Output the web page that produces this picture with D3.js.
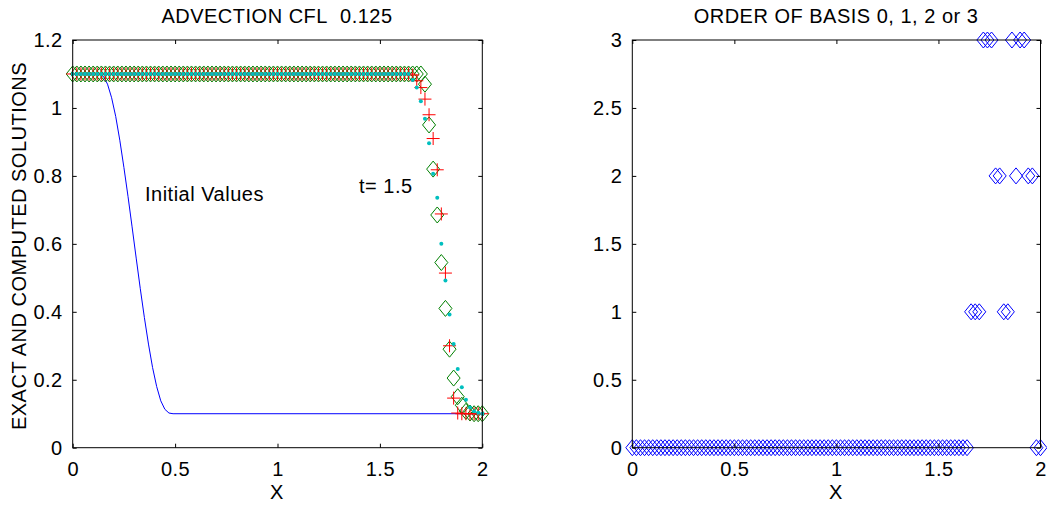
<!DOCTYPE html>
<html>
<head>
<meta charset="utf-8">
<script src="https://cdn.jsdelivr.net/npm/d3@7"></script>
<style>
  body { margin: 0; background: #fff; }
  text { font-family: "Liberation Sans", Arial, sans-serif; fill: #000; letter-spacing: 0.5px; }
</style>
</head>
<body>
<script>
// mesh: 101 points, dx = 0.02 on [0, 2]
let xMesh = d3.range(101).map(i => +(i * 0.02).toFixed(2))

// initial values (blue line)
let initX = [0, 0.10, 0.13, 0.15, 0.17, 0.19, 0.21, 0.23, 0.25, 0.27, 0.29, 0.31, 0.33, 0.35, 0.37, 0.39, 0.41, 0.43, 0.45, 0.47, 0.49, 2.0]
let initY = [1.1, 1.1, 1.1, 1.093, 1.07, 1.03, 0.975, 0.905, 0.825, 0.74, 0.65, 0.558, 0.468, 0.383, 0.305, 0.236, 0.18, 0.138, 0.113, 0.102, 0.1, 0.1]

// green diamonds at t = 1.5
let greenVals = [
  1.1, 1.1, 1.1, 1.1, 1.1, 1.1, 1.1, 1.1, 1.1, 1.1, 1.1, 1.1, 1.1, 1.1, 1.1, 1.1, 1.1, 1.1, 1.1, 1.1,
  1.1, 1.1, 1.1, 1.1, 1.1, 1.1, 1.1, 1.1, 1.1, 1.1, 1.1, 1.1, 1.1, 1.1, 1.1, 1.1, 1.1, 1.1, 1.1, 1.1,
  1.1, 1.1, 1.1, 1.1, 1.1, 1.1, 1.1, 1.1, 1.1, 1.1, 1.1, 1.1, 1.1, 1.1, 1.1, 1.1, 1.1, 1.1, 1.1, 1.1,
  1.1, 1.1, 1.1, 1.1, 1.1, 1.1, 1.1, 1.1, 1.1, 1.1, 1.1, 1.1, 1.1, 1.1, 1.1, 1.1, 1.1, 1.1, 1.1, 1.1,
  1.1, 1.1, 1.1, 1.1, 1.1, 1.1, 1.07, 0.95, 0.82, 0.685, 0.545, 0.41, 0.29, 0.205, 0.15, 0.125, 0.107, 0.102, 0.1, 0.1,
  0.1]

// red pluses
let redVals = [
  1.1, 1.1, 1.1, 1.1, 1.1, 1.1, 1.1, 1.1, 1.1, 1.1, 1.1, 1.1, 1.1, 1.1, 1.1, 1.1, 1.1, 1.1, 1.1, 1.1,
  1.1, 1.1, 1.1, 1.1, 1.1, 1.1, 1.1, 1.1, 1.1, 1.1, 1.1, 1.1, 1.1, 1.1, 1.1, 1.1, 1.1, 1.1, 1.1, 1.1,
  1.1, 1.1, 1.1, 1.1, 1.1, 1.1, 1.1, 1.1, 1.1, 1.1, 1.1, 1.1, 1.1, 1.1, 1.1, 1.1, 1.1, 1.1, 1.1, 1.1,
  1.1, 1.1, 1.1, 1.1, 1.1, 1.1, 1.1, 1.1, 1.1, 1.1, 1.1, 1.1, 1.1, 1.1, 1.1, 1.1, 1.1, 1.1, 1.1, 1.1,
  1.1, 1.1, 1.1, 1.097, 1.08, 1.06, 1.026, 0.98, 0.91, 0.818, 0.688, 0.514, 0.30, 0.146, 0.102, 0.1, 0.1, 0.1, 0.1, 0.1,
  0.1]

// cyan dots
let cyanVals = [
  1.1, 1.1, 1.1, 1.1, 1.1, 1.1, 1.1, 1.1, 1.1, 1.1, 1.1, 1.1, 1.1, 1.1, 1.1, 1.1, 1.1, 1.1, 1.1, 1.1,
  1.1, 1.1, 1.1, 1.1, 1.1, 1.1, 1.1, 1.1, 1.1, 1.1, 1.1, 1.1, 1.1, 1.1, 1.1, 1.1, 1.1, 1.1, 1.1, 1.1,
  1.1, 1.1, 1.1, 1.1, 1.1, 1.1, 1.1, 1.1, 1.1, 1.1, 1.1, 1.1, 1.1, 1.1, 1.1, 1.1, 1.1, 1.1, 1.1, 1.1,
  1.1, 1.1, 1.1, 1.1, 1.1, 1.1, 1.1, 1.1, 1.1, 1.1, 1.1, 1.1, 1.1, 1.1, 1.1, 1.1, 1.1, 1.1, 1.1, 1.1,
  1.1, 1.1, 1.1, 1.082, 1.06, 1.02, 0.968, 0.896, 0.806, 0.736, 0.60, 0.492, 0.392, 0.305, 0.232, 0.178, 0.141, 0.118, 0.107, 0.103,
  0.1]

// order of basis per cell
let orderVals = [
  0, 0, 0, 0, 0, 0, 0, 0, 0, 0, 0, 0, 0, 0, 0, 0, 0, 0, 0, 0,
  0, 0, 0, 0, 0, 0, 0, 0, 0, 0, 0, 0, 0, 0, 0, 0, 0, 0, 0, 0,
  0, 0, 0, 0, 0, 0, 0, 0, 0, 0, 0, 0, 0, 0, 0, 0, 0, 0, 0, 0,
  0, 0, 0, 0, 0, 0, 0, 0, 0, 0, 0, 0, 0, 0, 0, 0, 0, 0, 0, 0,
  0, 0, 0, 1, 1, 1, 3, 3, 3, 2, 2, 1, 1, 3, 2, 3, 3, 2, 2, 0,
  0]

let xTicks = [0, 0.5, 1, 1.5, 2]
let yTicksLeft = [0, 0.2, 0.4, 0.6, 0.8, 1, 1.2]
let yTicksRight = [0, 0.5, 1, 1.5, 2, 2.5, 3]

let width = 1047, height = 508
let svg = d3.select("body").append("svg")
  .attr("width", width)
  .attr("height", height)

let FS = 20

function diamond(d) {
  return `M0,-8L6.5,0L0,8L-6.5,0Z`
}

// draws the box, inward ticks on all sides and tick labels
function drawAxes(g, x, y, yTicks) {
  let [x0, x1] = x.range()
  let [y0, y1] = y.range()
  g.append("rect")
    .attr("x", x0).attr("y", y1)
    .attr("width", x1 - x0).attr("height", y0 - y1)
    .attr("fill", "none").attr("stroke", "#000")

  let fmt = d => d3.format("~g")(d)
  g.append("g").attr("transform", `translate(0,${y0})`)
    .call(d3.axisBottom(x).tickValues(xTicks).tickSize(-4).tickPadding(14).tickFormat(fmt))
  g.append("g").attr("transform", `translate(0,${y1})`)
    .call(d3.axisTop(x).tickValues(xTicks).tickSize(-4).tickFormat(""))
  g.append("g").attr("transform", `translate(${x0},0)`)
    .call(d3.axisLeft(y).tickValues(yTicks).tickSize(-4).tickPadding(10).tickFormat(fmt))
  g.append("g").attr("transform", `translate(${x1},0)`)
    .call(d3.axisRight(y).tickValues(yTicks).tickSize(-4).tickFormat(""))

  g.selectAll(".domain").remove()
  g.selectAll(".tick line").attr("stroke", "#000")
  g.selectAll(".tick text")
    .attr("font-size", FS)
    .attr("font-family", "Liberation Sans, Arial, sans-serif")
    .attr("fill", "#000")
}

// ---- left plot ----
let xL = d3.scaleLinear().domain([0, 2]).range([72.7, 482.3])
let yL = d3.scaleLinear().domain([0, 1.2]).range([447.7, 40])
let gL = svg.append("g")

let line = d3.line().x((d, i) => xL(initX[i])).y(d => yL(d))
gL.append("path")
  .attr("d", line(initY))
  .attr("fill", "none")
  .attr("stroke", "#0000ff")
  .attr("stroke-width", 1)

gL.append("g").selectAll("path")
  .data(greenVals)
  .enter()
  .append("path")
    .attr("d", diamond)
    .attr("transform", (d, i) => `translate(${xL(xMesh[i])},${yL(d)})`)
    .attr("fill", "none")
    .attr("stroke", "#008000")

gL.append("g").selectAll("path")
  .data(redVals)
  .enter()
  .append("path")
    .attr("d", "M-6.5,0H6.5M0,-6.5V6.5")
    .attr("transform", (d, i) => `translate(${xL(xMesh[i])},${yL(d)})`)
    .attr("fill", "none")
    .attr("stroke", "#ff0000")

gL.append("g").selectAll("circle")
  .data(cyanVals)
  .enter()
  .append("circle")
    .attr("cx", (d, i) => xL(xMesh[i]))
    .attr("cy", d => yL(d))
    .attr("r", 2)
    .attr("fill", "#00bfbf")

drawAxes(gL, xL, yL, yTicksLeft)

gL.append("text").attr("x", 277).attr("y", 23).attr("text-anchor", "middle")
  .attr("font-size", FS).text("ADVECTION CFL\u00a0\u00a00.125")
gL.append("text").attr("x", 277).attr("y", 499).attr("text-anchor", "middle")
  .attr("font-size", FS).text("X")
gL.append("text")
  .attr("transform", "translate(26,246) rotate(-90)")
  .attr("text-anchor", "middle")
  .attr("font-size", FS).text("EXACT AND COMPUTED SOLUTIONS")
gL.append("text").attr("x", 145).attr("y", 201)
  .attr("font-size", FS).text("Initial Values")
gL.append("text").attr("x", 359).attr("y", 193)
  .attr("font-size", FS).text("t= 1.5")

// ---- right plot ----
let xR = d3.scaleLinear().domain([0, 2]).range([632.3, 1040.5])
let yR = d3.scaleLinear().domain([0, 3]).range([447.7, 40])
let gR = svg.append("g")

gR.append("g").selectAll("path")
  .data(orderVals)
  .enter()
  .append("path")
    .attr("d", diamond)
    .attr("transform", (d, i) => `translate(${xR(xMesh[i])},${yR(d)})`)
    .attr("fill", "none")
    .attr("stroke", "#0000ff")

drawAxes(gR, xR, yR, yTicksRight)

gR.append("text").attr("x", 836).attr("y", 23).attr("text-anchor", "middle")
  .attr("font-size", FS).text("ORDER OF BASIS 0, 1, 2 or 3")
gR.append("text").attr("x", 836).attr("y", 499).attr("text-anchor", "middle")
  .attr("font-size", FS).text("X")
</script>
</body>
</html>
